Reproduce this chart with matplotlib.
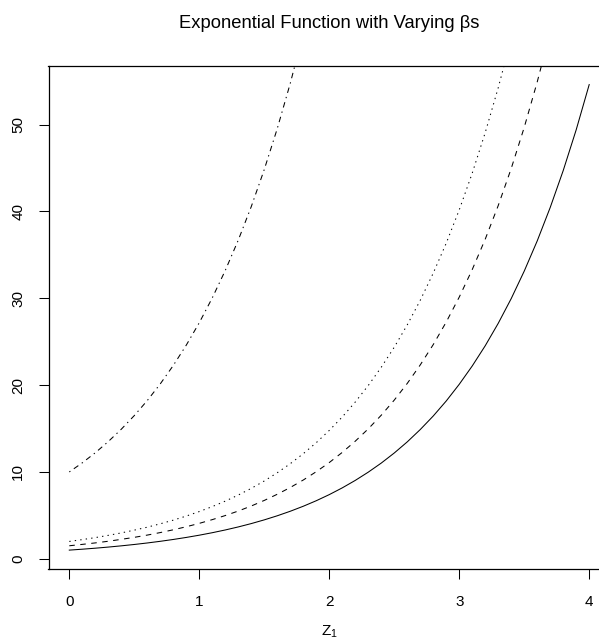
import matplotlib
matplotlib.use("Agg")
import matplotlib.pyplot as plt

plt.rcParams['font.family'] = ['Liberation Sans', 'DejaVu Sans']
plt.rcParams['mathtext.fontset'] = 'custom'
plt.rcParams['mathtext.rm'] = 'Liberation Sans'
plt.rcParams['mathtext.it'] = 'Liberation Sans'

# values, z in steps of 0.1 (curves stop once they leave the top)
z = [round(0.1 * i, 1) for i in range(41)]
solid = [1.000, 1.105, 1.221, 1.350, 1.492, 1.649, 1.822, 2.014, 2.226, 2.460,
         2.718, 3.004, 3.320, 3.669, 4.055, 4.482, 4.953, 5.474, 6.050, 6.686,
         7.389, 8.166, 9.025, 9.974, 11.02, 12.18, 13.46, 14.88, 16.44, 18.17,
         20.09, 22.20, 24.53, 27.11, 29.96, 33.12, 36.60, 40.45, 44.70, 49.40,
         54.60]
dashed = [1.50, 1.66, 1.83, 2.02, 2.24, 2.47, 2.73, 3.02, 3.34, 3.69,
          4.08, 4.51, 4.98, 5.50, 6.08, 6.72, 7.43, 8.21, 9.07, 10.03,
          11.08, 12.25, 13.54, 14.96, 16.53, 18.27, 20.19, 22.32, 24.66, 27.26,
          30.13, 33.30, 36.80, 40.67, 44.94, 49.67, 54.90, 60.67]
dotted = [2.00, 2.21, 2.44, 2.70, 2.98, 3.30, 3.64, 4.03, 4.45, 4.92,
          5.44, 6.01, 6.64, 7.34, 8.11, 8.96, 9.91, 10.95, 12.10, 13.37,
          14.78, 16.33, 18.05, 19.95, 22.05, 24.36, 26.93, 29.76, 32.89, 36.34,
          40.17, 44.40, 49.07, 54.23, 59.93]
dashdot = [10.00, 11.05, 12.21, 13.50, 14.92, 16.49, 18.22, 20.14, 22.26, 24.60,
           27.18, 30.04, 33.20, 36.69, 40.55, 44.82, 49.53, 54.74, 60.50]

xticks = [0, 1, 2, 3, 4]
yticks = [0, 10, 20, 30, 40, 50]

fig = plt.figure(figsize=(5.99, 6.44), dpi=100)
# the right edge of the plot box lies outside the picture in the reference
ax = fig.add_axes([48.5 / 599, 1 - 568.7 / 644, (610 - 48.5) / 599, (568.7 - 66) / 644])

lw = 0.75
ax.plot(z[:len(solid)], solid, color='black', lw=lw)
ax.plot(z[:len(dashed)], dashed, color='black', lw=lw, dashes=(5.3, 5.3))
ax.plot(z[:len(dotted)], dotted, color='black', lw=lw, dashes=(1.3, 4.0))
ax.plot(z[:len(dashdot)], dashdot, color='black', lw=lw, dashes=(1.3, 4.0, 5.3, 4.0))

ax.set_xlim(-0.16, 4.16)
ax.set_ylim(-1.14, 56.74)
ax.set_xticks(xticks)
ax.set_yticks(yticks)
ax.set_xticklabels([str(t) for t in xticks])
ax.set_yticklabels([str(t) for t in yticks], rotation=90, va='center')
ax.tick_params(length=7.2, width=0.75, labelsize=11, pad=11.5)
ax.tick_params(axis='y', pad=9.5)
for s in ax.spines.values():
    s.set_linewidth(0.9)

fig.text(329 / 599, 1 - 24 / 644, 'Exponential Function with Varying βs',
         ha='center', va='center', fontsize=13.2)
fig.text(329 / 599, 1 - 632 / 644, 'Z$_1$', ha='center', va='center', fontsize=11)

fig.savefig('out.png', dpi=100)
